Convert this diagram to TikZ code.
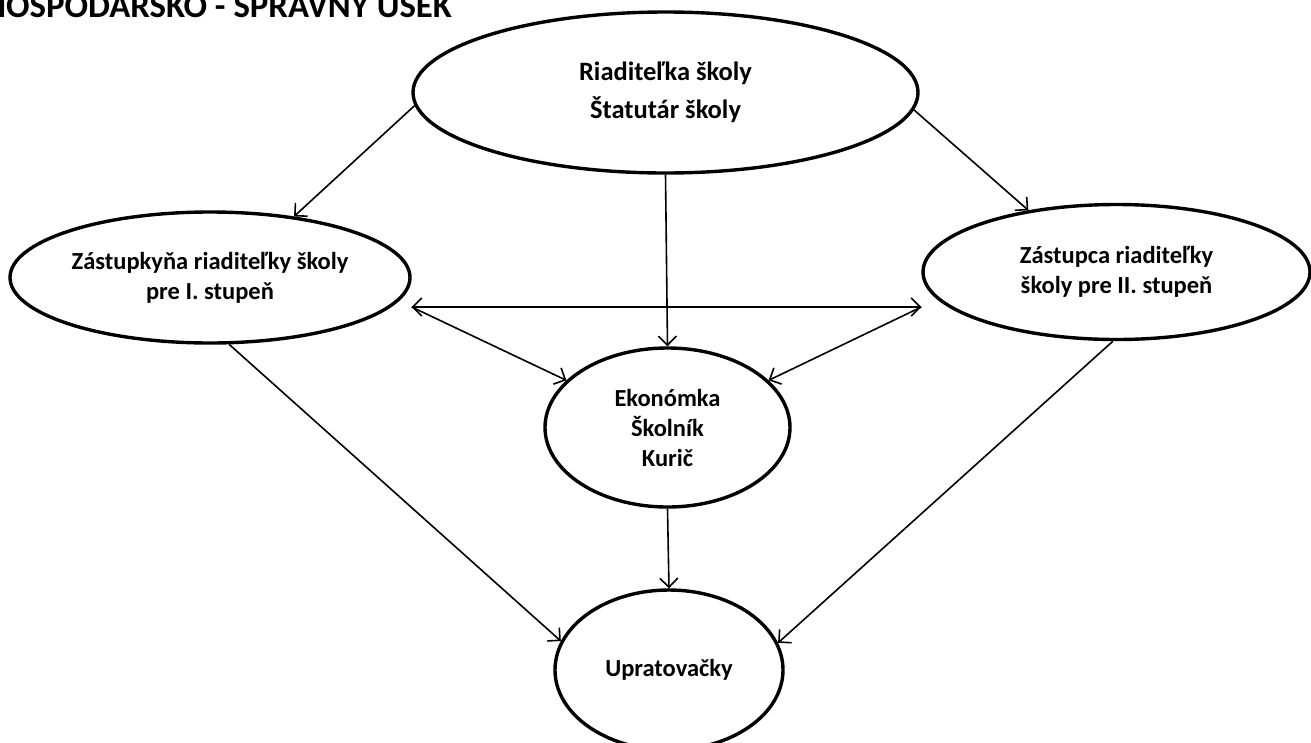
\documentclass[tikz,border=0pt]{standalone}
\usepackage{fontspec}
\setmainfont{Carlito}
\usetikzlibrary{shapes.geometric,arrows.meta}
\begin{document}
\begin{tikzpicture}[x=1pt,y=-1pt,
  oval/.style={ellipse,draw,line width=3.4pt,inner sep=0pt,align=center,
    font=\bfseries\fontsize{24.5}{30}\selectfont},
  arr/.style={line width=1.6pt,-{Straight Barb[length=9pt,width=18pt]}},
  arrboth/.style={line width=1.6pt,{Straight Barb[length=9pt,width=18pt]}-{Straight Barb[length=9pt,width=18pt]}},
  titletext/.style={anchor=base west,inner sep=0pt,font=\bfseries\fontsize{34.8}{40}\selectfont}]
\useasboundingbox (0,0) rectangle (1311,742);
\clip (0,0) rectangle (1311,742);
\node[titletext] (title) at (-16,17) {HOSPODÁRSKO - SPRÁVNY ÚSEK};
\node[oval,minimum width=505pt,minimum height=161pt,font=\bfseries\fontsize{26.5}{38}\selectfont] (T) at (665.5,92.5) {Riaditeľka školy\\Štatutár školy};
\node[oval,minimum width=400pt,minimum height=131pt] (L) at (210,277.5) {Zástupkyňa riaditeľky školy\\pre I. stupeň};
\node[oval,minimum width=387pt,minimum height=135pt] (R) at (1116.5,272) {Zástupca riaditeľky\\školy pre II. stupeň};
\node[oval,minimum width=245pt,minimum height=159pt] (M) at (667.5,427.5) {Ekonómka\\Školník\\Kurič};
\node[oval,minimum width=228pt,minimum height=160pt] (U) at (669,670) {Upratovačky};
\coordinate (hl) at ([yshift=-29.5pt]L.east);
\coordinate (hr) at ([yshift=-35pt]R.west);
\draw[arr] (T.183.5) -- (L.36);
\draw[arr] (T.356) -- (R.145.7);
\draw[arr] (T.south) -- (M.north);
\draw[arrboth] (hl) -- (hr);
\draw[arr] (hl) -- (M.155.6);
\draw[arr] (hr) -- (M.25.8);
\draw[arr] (L.286) -- (U.165.8);
\draw[arr] (R.267) -- (U.14.5);
\draw[arr] (M.south) -- (U.north);
\end{tikzpicture}
\end{document}
